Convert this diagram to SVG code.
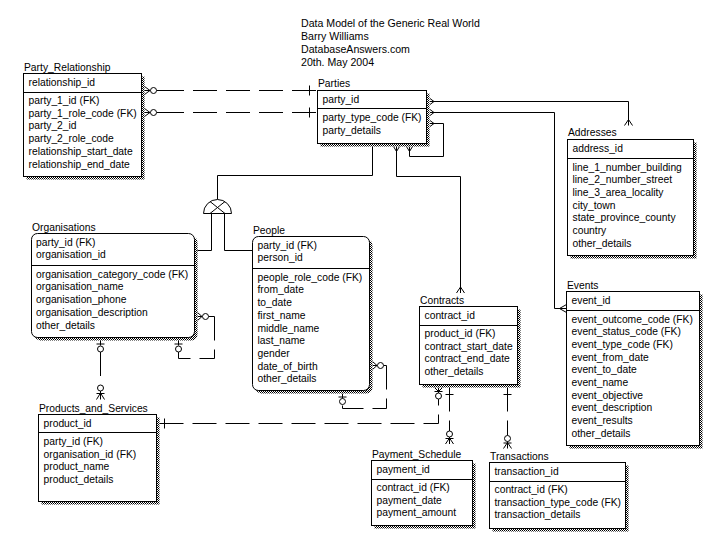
<svg xmlns="http://www.w3.org/2000/svg" width="727" height="545" viewBox="0 0 727 545">
<defs>
<pattern id="hatch" width="2" height="2" patternUnits="userSpaceOnUse"><rect width="2" height="2" fill="#fff"/><rect width="1" height="1" fill="#000"/><rect x="1" y="1" width="1" height="1" fill="#000"/></pattern>
<style>
.t{font-family:"Liberation Sans",Arial,sans-serif;font-size:10.3px;fill:#000}
.tt{font-size:10.6px}
.box{fill:#fff;stroke:#000;stroke-width:1}
.sh{fill:url(#hatch);stroke:none}
.ln{fill:none;stroke:#000;stroke-width:1}
.dl{fill:none;stroke:#000;stroke-width:1;stroke-dasharray:24 9}
.c{fill:#fff;stroke:#000;stroke-width:1}
</style>
</defs>
<rect width="727" height="545" fill="#fff"/>
<g id="title" class="t tt">
<text x="301" y="27">Data Model of the Generic Real World</text>
<text x="301" y="40">Barry Williams</text>
<text x="301" y="53">DatabaseAnswers.com</text>
<text x="301" y="65.5">20th. May 2004</text>
</g>
<g id="connectors">
<!-- Party_Relationship to Parties -->
<path class="ln" d="M144.5,86.5 L150,90.5 L144.5,94.5 M144.5,90.5 H150.5 M156.5,90.5 H160"/>
<circle class="c" cx="153.5" cy="90.5" r="3"/>
<path class="dl" d="M160,90.5 H317.5"/>
<path class="ln" d="M309.5,85.5 V95.5"/>
<path class="ln" d="M144.5,108.5 L150,112.5 L144.5,116.5 M144.5,112.5 H150.5 M156.5,112.5 H160"/>
<circle class="c" cx="153.5" cy="112.5" r="3"/>
<path class="dl" d="M160,112.5 H317.5"/>
<path class="ln" d="M309.5,107.5 V117.5"/>
<!-- Parties to Addresses -->
<path class="ln" d="M430,101.5 H628.5 V125.5 M430,98.5 L434,101.5 L430,104.5 M624.5,125.5 L628.5,119.5 L632.5,125.5"/>
<!-- Parties to Events -->
<path class="ln" d="M430,112.5 H554.5 V308.5 H566.5 M430,109.5 L434,112.5 L430,115.5 M566.5,304.5 L559.5,308.5 L566.5,312.5"/>
<!-- Parties self -->
<path class="ln" d="M430,123.5 H443.5 V156.5 H409.5 V146.5 M430,120.5 L434,123.5 L430,126.5 M406.5,146.5 L409.5,151.5 L412.5,146.5"/>
<!-- Parties to Contracts -->
<path class="ln" d="M396.5,146.5 V176.5 H460.5 V293 M393.5,146.5 L396.5,151.5 L399.5,146.5 M456.5,293 L460.5,287 L464.5,293"/>
<!-- Parties to subtype -->
<path class="ln" d="M372.5,146.5 V175.5 H217.5 V199.5"/>
<path class="c" d="M203.5,213.5 A14,14 0 0 1 231.5,213.5 Z"/>
<path class="ln" d="M210,201.5 L225,213.5 M225,201.5 L210,213.5"/>
<path class="ln" d="M211.5,213.5 V250.5 H194.5 M224.5,213.5 V250.5 H252.5"/>
<!-- Organisations self -->
<path class="ln" d="M197.5,312.5 L202,316.5 L197.5,320.5 M197.5,316.5 H202.5 M208.5,316.5 H214.5"/>
<circle class="c" cx="205.5" cy="316.5" r="3"/>
<path class="dl" d="M214.5,316.5 V358.5 H178.5 V352"/>
<path class="ln" d="M178.5,340.5 V345.5 M174.5,344 H182.5"/>
<circle class="c" cx="178.5" cy="349" r="3"/>
<!-- Organisations to Products_and_Services -->
<path class="ln" d="M100.5,340.5 V345.5 M96.5,344 H104.5"/>
<circle class="c" cx="100.5" cy="349" r="3"/>
<path class="dl" d="M100.5,352 V385"/>
<circle class="c" cx="100.5" cy="388" r="3"/>
<path class="ln" d="M100.5,391 V399.5 M96.5,393.5 H104.5 M96.5,399.5 L100.5,393 L104.5,399.5"/>
<!-- People self -->
<path class="ln" d="M372.5,361.5 L377,365.5 L372.5,369.5 M372.5,365.5 H377.5 M383.5,365.5 H386.5"/>
<circle class="c" cx="380.5" cy="365.5" r="3"/>
<path class="dl" d="M386.5,365.5 V408.5 H342.5 V404.5"/>
<path class="ln" d="M342.5,393.5 V398.5 M338.5,397 H346.5"/>
<circle class="c" cx="342.5" cy="401.5" r="3"/>
<!-- Products_and_Services to Contracts -->
<path class="dl" d="M159.5,423.5 H438.5 V399"/>
<path class="ln" d="M164.5,418.5 V428.5"/>
<path class="ln" d="M438.5,387.5 V393 M434.5,387.5 L438.5,391.5 L442.5,387.5 M434.5,391.5 H442.5"/>
<circle class="c" cx="438.5" cy="396" r="3"/>
<!-- Contracts to Payment_Schedule -->
<path class="dl" d="M449.5,387.5 V431"/>
<path class="ln" d="M445.5,394.5 H453.5"/>
<circle class="c" cx="449.5" cy="434" r="3"/>
<path class="ln" d="M449.5,437 V444 M445.5,438.5 H453.5 M445.5,444 L449.5,438 L453.5,444"/>
<!-- Contracts to Transactions -->
<path class="dl" d="M507.5,387.5 V435.5"/>
<path class="ln" d="M503.5,394.5 H511.5"/>
<circle class="c" cx="507.5" cy="438.5" r="3"/>
<path class="ln" d="M507.5,441.5 V448.5 M503.5,443 H511.5 M503.5,448.5 L507.5,442.5 L511.5,448.5"/>
</g>
<g id="party_relationship">
<rect class="sh" x="26.5" y="76.5" width="118" height="103"/>
<rect class="box" x="23.5" y="73.5" width="118" height="103"/>
<path class="ln" d="M23.5,92.5 H141.5"/>
<g class="t">
<text x="24" y="70.5">Party_Relationship</text>
<text x="28.5" y="86">relationship_id</text>
<text x="28.5" y="104">party_1_id (FK)</text>
<text x="28.5" y="116.7">party_1_role_code (FK)</text>
<text x="28.5" y="129.4">party_2_id</text>
<text x="28.5" y="142.1">party_2_role_code</text>
<text x="28.5" y="154.8">relationship_start_date</text>
<text x="28.5" y="167.5">relationship_end_date</text>
</g>
</g>
<g id="parties">
<rect class="sh" x="320.5" y="93.5" width="109" height="53"/>
<rect class="box" x="317.5" y="90.5" width="109" height="53"/>
<path class="ln" d="M317.5,108.5 H426.5"/>
<g class="t">
<text x="318" y="87">Parties</text>
<text x="322.5" y="102.5">party_id</text>
<text x="322.5" y="121">party_type_code (FK)</text>
<text x="322.5" y="133.7">party_details</text>
</g>
</g>
<g id="addresses">
<rect class="sh" x="570.5" y="142.5" width="126" height="116"/>
<rect class="box" x="567.5" y="139.5" width="126" height="116"/>
<path class="ln" d="M567.5,158.5 H693.5"/>
<g class="t">
<text x="568" y="136">Addresses</text>
<text x="572.5" y="151.5">address_id</text>
<text x="572.5" y="170.5">line_1_number_building</text>
<text x="572.5" y="183.2">line_2_number_street</text>
<text x="572.5" y="195.9">line_3_area_locality</text>
<text x="572.5" y="208.6">city_town</text>
<text x="572.5" y="221.3">state_province_county</text>
<text x="572.5" y="234">country</text>
<text x="572.5" y="246.7">other_details</text>
</g>
</g>
<g id="organisations">
<rect class="sh" x="34.5" y="236.5" width="163" height="104" rx="6"/>
<rect class="box" x="31.5" y="233.5" width="163" height="104" rx="6"/>
<path class="ln" d="M31.5,265.5 H194.5"/>
<g class="t">
<text x="32" y="230.5">Organisations</text>
<text x="36" y="245.5">party_id (FK)</text>
<text x="36" y="258.2">organisation_id</text>
<text x="36" y="277.7">organisation_category_code (FK)</text>
<text x="36" y="290.4">organisation_name</text>
<text x="36" y="303.1">organisation_phone</text>
<text x="36" y="315.8">organisation_description</text>
<text x="36" y="328.5">other_details</text>
</g>
</g>
<g id="people">
<rect class="sh" x="255.5" y="239.5" width="117" height="154" rx="6"/>
<rect class="box" x="252.5" y="236.5" width="117" height="154" rx="6"/>
<path class="ln" d="M252.5,268.5 H369.5"/>
<g class="t">
<text x="253" y="233.5">People</text>
<text x="257.5" y="248.5">party_id (FK)</text>
<text x="257.5" y="261.2">person_id</text>
<text x="257.5" y="280.7">people_role_code (FK)</text>
<text x="257.5" y="293.4">from_date</text>
<text x="257.5" y="306.1">to_date</text>
<text x="257.5" y="318.8">first_name</text>
<text x="257.5" y="331.5">middle_name</text>
<text x="257.5" y="344.2">last_name</text>
<text x="257.5" y="356.9">gender</text>
<text x="257.5" y="369.6">date_of_birth</text>
<text x="257.5" y="382.3">other_details</text>
</g>
</g>
<g id="contracts">
<rect class="sh" x="422.5" y="309.5" width="98" height="78"/>
<rect class="box" x="419.5" y="306.5" width="98" height="78"/>
<path class="ln" d="M419.5,325.5 H517.5"/>
<g class="t">
<text x="420" y="303.5">Contracts</text>
<text x="424.5" y="318.5">contract_id</text>
<text x="424.5" y="337">product_id (FK)</text>
<text x="424.5" y="349.7">contract_start_date</text>
<text x="424.5" y="362.4">contract_end_date</text>
<text x="424.5" y="375.1">other_details</text>
</g>
</g>
<g id="events">
<rect class="sh" x="569.5" y="294.5" width="133" height="154"/>
<rect class="box" x="566.5" y="291.5" width="133" height="154"/>
<path class="ln" d="M566.5,310.5 H699.5"/>
<g class="t">
<text x="567" y="288.5">Events</text>
<text x="571.5" y="303.5">event_id</text>
<text x="571.5" y="322.5">event_outcome_code (FK)</text>
<text x="571.5" y="335.2">event_status_code (FK)</text>
<text x="571.5" y="347.9">event_type_code (FK)</text>
<text x="571.5" y="360.6">event_from_date</text>
<text x="571.5" y="373.3">event_to_date</text>
<text x="571.5" y="386">event_name</text>
<text x="571.5" y="398.7">event_objective</text>
<text x="571.5" y="411.4">event_description</text>
<text x="571.5" y="424.1">event_results</text>
<text x="571.5" y="436.8">other_details</text>
</g>
</g>
<g id="products_and_services">
<rect class="sh" x="41.5" y="417.5" width="118" height="87"/>
<rect class="box" x="38.5" y="414.5" width="118" height="87"/>
<path class="ln" d="M38.5,432.5 H156.5"/>
<g class="t">
<text x="39" y="411.5">Products_and_Services</text>
<text x="43.5" y="426.5">product_id</text>
<text x="43.5" y="445">party_id (FK)</text>
<text x="43.5" y="457.7">organisation_id (FK)</text>
<text x="43.5" y="470.4">product_name</text>
<text x="43.5" y="483.1">product_details</text>
</g>
</g>
<g id="payment_schedule">
<rect class="sh" x="374.5" y="463.5" width="101" height="65"/>
<rect class="box" x="371.5" y="460.5" width="101" height="65"/>
<path class="ln" d="M371.5,479.5 H472.5"/>
<g class="t">
<text x="372" y="457.5">Payment_Schedule</text>
<text x="376.5" y="472.7">payment_id</text>
<text x="376.5" y="491">contract_id (FK)</text>
<text x="376.5" y="503.7">payment_date</text>
<text x="376.5" y="516.4">payment_amount</text>
</g>
</g>
<g id="transactions">
<rect class="sh" x="492.5" y="465.5" width="136" height="66"/>
<rect class="box" x="489.5" y="462.5" width="136" height="66"/>
<path class="ln" d="M489.5,481.5 H625.5"/>
<g class="t">
<text x="490" y="459.5">Transactions</text>
<text x="494.5" y="474.5">transaction_id</text>
<text x="494.5" y="493">contract_id (FK)</text>
<text x="494.5" y="505.7">transaction_type_code (FK)</text>
<text x="494.5" y="518.4">transaction_details</text>
</g>
</g>
</svg>
